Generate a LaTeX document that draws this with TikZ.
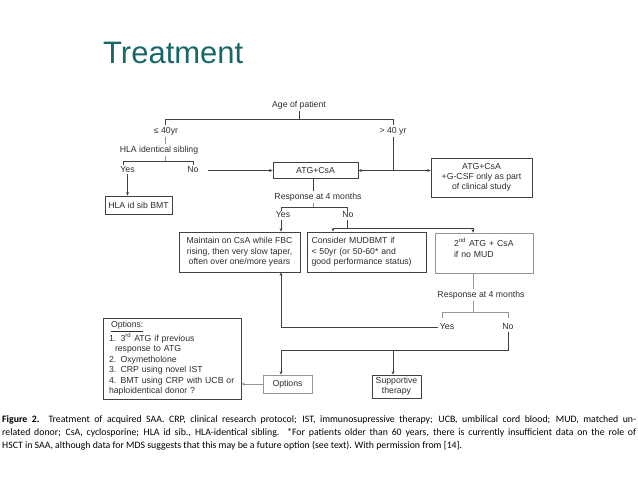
\documentclass[tikz,border=0pt]{standalone}
\usepackage{fontspec}
\setmainfont{Liberation Sans}
\newfontfamily\capfont{Carlito}
\usetikzlibrary{arrows.meta}
\definecolor{titlecol}{RGB}{24,104,106}
\definecolor{lnc}{RGB}{65,65,65}
\definecolor{lnl}{RGB}{150,150,150}
\definecolor{txt}{RGB}{45,45,45}
\begin{document}
\begin{tikzpicture}[x=1pt,y=-1pt,
  lbl/.style={font=\fontsize{8.7}{10.3}\selectfont, text=txt, inner sep=1.5pt},
  bx/.style={draw=lnc, line width=0.8pt, font=\fontsize{8.7}{10.3}\selectfont, text=txt, inner sep=2pt, align=center},
  bxl/.style={bx, draw=lnl},
  ln/.style={draw=lnc, line width=0.8pt},
  lnlt/.style={draw=lnl, line width=0.8pt},
  arr/.style={ln, -{Stealth[length=3.5pt,width=3pt]}},
  arrl/.style={lnlt, -{Stealth[length=3.5pt,width=3pt]}},
  capline/.style={font=\capfont\fontsize{9.8}{11}\selectfont, anchor=west, inner sep=0pt}
]
\useasboundingbox (0,0) rectangle (638,479);

% title
\node[anchor=base west, inner sep=0pt, text=titlecol, font=\fontsize{31}{34}\selectfont] (title) at (103,63) {Treatment};

% labels
\node[lbl] (age) at (299,105) {Age of patient};
\node[lbl] (le40) at (166,131) {≤ 40yr};
\node[lbl] (gt40) at (393,131) {> 40 yr};
\node[lbl] (hla) at (159,150) {HLA identical sibling};
\node[lbl] (yes1) at (127.5,169.5) {Yes};
\node[lbl] (no1) at (193,169.5) {No};
\node[lbl] (resp1) at (318,197) {Response at 4 months};
\node[lbl] (yes2) at (283,215) {Yes};
\node[lbl] (no2) at (348,215) {No};
\node[lbl] (resp2) at (481,295) {Response at 4 months};
\node[lbl] (yes3) at (447,327) {Yes};
\node[lbl] (no3) at (508,327) {No};

% boxes
\node[bx, minimum width=67, minimum height=18] (sib) at (138.5,205) {HLA id sib BMT};
\node[bx, minimum width=85, minimum height=16] (atg) at (315.5,170.5) {ATG+CsA};
\node[bx, minimum width=101, minimum height=39] (atgg) at (481.5,177.5) {ATG+CsA\\+G-CSF only as part\\of clinical study};
\node[bx, minimum width=121, minimum height=40] (maint) at (239.5,252) {Maintain on CsA while FBC\\rising, then very slow taper,\\often over one/more years};
\node[bx, align=left, text width=110, minimum width=119, minimum height=40] (cons) at (366.5,252) {Consider MUDBMT if\\< 50yr (or 50-60* and\\good performance status)};
\node[bxl, align=left, text width=60, minimum width=98, minimum height=40] (atg2) at (484,253) {2\textsuperscript{nd} ATG + CsA\\if no MUD\\\mbox{}};
\node[bxl, minimum width=49, minimum height=18] (opt) at (287.5,384) {Options};
\node[bx, minimum width=49, minimum height=23] (supp) at (396.5,386.5) {Supportive\\therapy};
\node[bx, align=left, text width=126, minimum width=138, minimum height=81, font=\fontsize{8.7}{10.5}\selectfont] (big) at (172,358.5) {\hspace*{2pt}\underline{Options:}\\1. 3\textsuperscript{rd} ATG if previous\\\hspace*{6pt}response to ATG\\2. Oxymetholone\\3. CRP using novel IST\\4. BMT using CRP with UCB or\\haploidentical donor ?};

% junction coordinates
\coordinate (tl) at (165,119);
\coordinate (tr) at (393,119);
\coordinate (b1m) at (165,161);
\coordinate (b1l) at (123,161);
\coordinate (b1r) at (193,161);
\coordinate (b1lt) at (123,165);
\coordinate (b1rt) at (193,165);
\coordinate (j40) at (393,170.5);
\coordinate (t1) at (313,179);
\coordinate (b2m) at (313,207);
\coordinate (b2l) at (281,207);
\coordinate (b2r) at (347,207);
\coordinate (b2lt) at (281,211);
\coordinate (b2rt) at (347,211);
\coordinate (jn) at (347,228);
\coordinate (jl) at (333,228);
\coordinate (jr) at (473,228);
\coordinate (b3m) at (473,312);
\coordinate (b3l) at (442,312);
\coordinate (b3r) at (508,312);
\coordinate (b3lt) at (442,318);
\coordinate (b3rt) at (508,318);
\coordinate (cy) at (281,327);
\coordinate (cn) at (508,350);
\coordinate (cl) at (281,350);
\coordinate (cs) at (393,350);

% connectors
\draw[ln, line width=1pt] (tl) -- (tr);
\draw[ln] (age.south) -- (age.south |- tl);
\draw[ln] (tl) -- (tl |- le40.north);
\draw[lnlt] (tl |- le40.south) -- (tl |- hla.north);
\draw[lnlt] (tl |- hla.south) -- (b1m);
\draw[ln] (b1lt) -- (b1l) -- (b1r) -- (b1rt);
\draw[arr] (yes1.south) -- (yes1.south |- sib.north);
\draw[arr] ([xshift=8pt]no1.east |- atg.west) -- (atg.west);
\draw[ln] (tr) -- (tr |- gt40.north);
\draw[ln] (tr |- gt40.south) -- (j40);
\draw[arr] (j40) -- (atg.east |- j40);
\draw[arr] (j40) -- (atgg.west |- j40);
\draw[ln] (t1 |- atg.south) -- (t1 |- resp1.north);
\draw[lnlt] (t1 |- resp1.south) -- (b2m);
\draw[ln] (b2lt) -- (b2l) -- (b2r) -- (b2rt);
\draw[arr] (b2l |- yes2.south) -- (b2l |- maint.north);
\draw[ln] (jn |- no2.south) -- (jn);
\draw[ln] (jl) -- (jr);
\draw[arr] (jl) -- (jl |- cons.north);
\draw[arr] (jr) -- (jr |- atg2.north);
\draw[lnlt] (jr |- atg2.south) -- (jr |- resp2.north);
\draw[lnlt] (jr |- resp2.south) -- (b3m);
\draw[lnlt] (b3lt) -- (b3l) -- (b3r) -- (b3rt);
\draw[arr] (yes3.west) -- (cy) -- (cy |- maint.south);
\draw[ln] (cn |- no3.south) -- (cn) -- (cl);
\draw[arr] (cl) -- (cl |- opt.north);
\draw[arr] (cs) -- (cs |- supp.north);
\draw[arrl] (opt.west) -- (big.east |- opt.west);

% caption
\node[capline] (cap1) at (2,420) {\makebox[634pt][s]{\textbf{Figure 2.}\ \ Treatment of acquired SAA. CRP, clinical research protocol; IST, immunosupressive therapy; UCB, umbilical cord blood; MUD, matched un-}};
\node[capline] (cap2) at (2,433) {\makebox[634pt][s]{related donor; CsA, cyclosporine; HLA id sib., HLA-identical sibling. *For patients older than 60 years, there is currently insufficient data on the role of}};
\node[capline] (cap3) at (2,446) {HSCT in SAA, although data for MDS suggests that this may be a future option (see text). With permission from [14].};
\end{tikzpicture}
\end{document}
